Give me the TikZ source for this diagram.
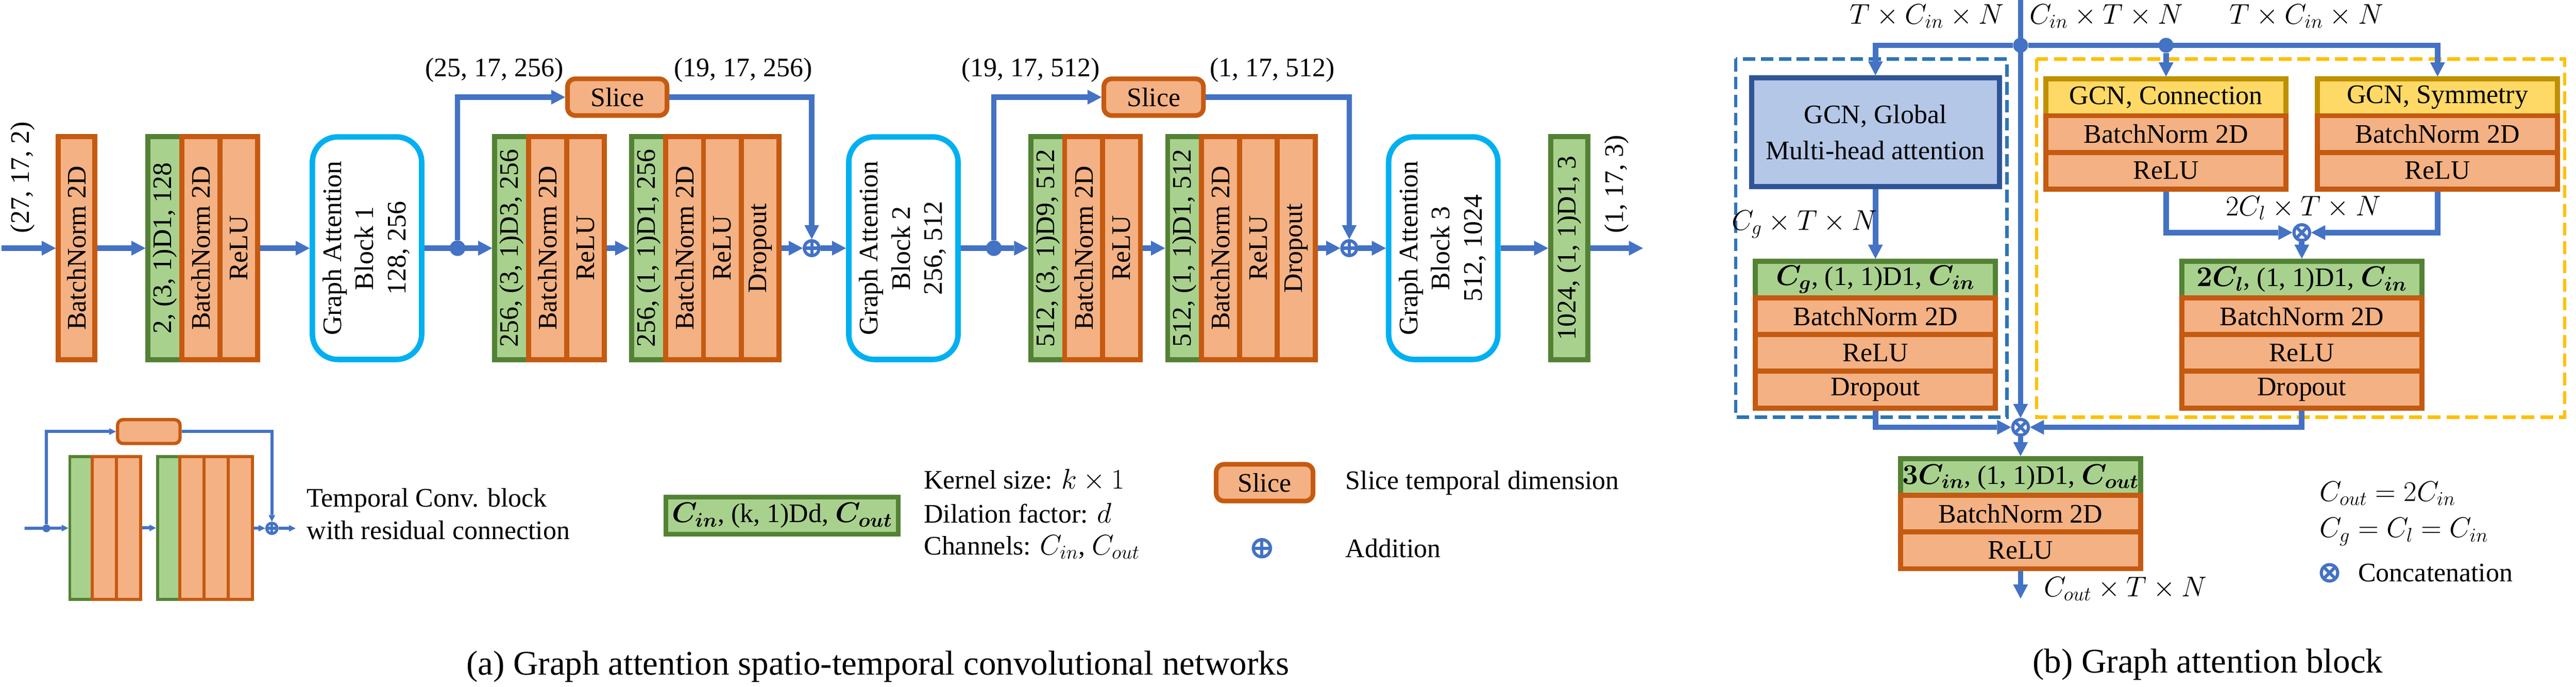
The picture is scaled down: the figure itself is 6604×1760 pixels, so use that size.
\documentclass[tikz,border=0pt]{standalone}
\usepackage{fontspec}
\setmainfont{Liberation Serif}
\usepackage{amsmath,bm}
\usetikzlibrary{arrows.meta,calc}
\definecolor{ablue}{HTML}{4472C4}
\definecolor{ofill}{HTML}{F4B183}
\definecolor{odraw}{HTML}{C55A11}
\definecolor{gfill}{HTML}{A9D18E}
\definecolor{gdraw}{HTML}{548235}
\definecolor{cyanb}{HTML}{00B0F0}
\definecolor{bfill}{HTML}{B4C7E7}
\definecolor{bdraw}{HTML}{2F5597}
\definecolor{yfill}{HTML}{FFD966}
\definecolor{ydraw}{HTML}{BF9000}
\definecolor{dblue}{HTML}{2E75B6}
\definecolor{dyellow}{HTML}{FFC000}
\begin{document}
\begin{tikzpicture}[x=0.01cm,y=-0.01cm,inner sep=0pt,
  font=\fontsize{19.5}{23.5}\selectfont,
  arr/.style={draw=ablue,line width=4pt,-{Triangle[length=0.36cm,width=0.38cm,line width=0pt]}},
  sarr/.style={draw=ablue,line width=2.2pt,-{Triangle[length=0.17cm,width=0.17cm,line width=0pt]}},
  ostrip/.style={draw=odraw,fill=ofill,line width=3.7pt,minimum width=0.97cm,minimum height=5.71cm},
  gstrip/.style={draw=gdraw,fill=gfill,line width=3.7pt,minimum width=0.87cm,minimum height=5.71cm},
  gab/.style={draw=cyanb,fill=white,line width=4pt,rounded corners=0.65cm,minimum width=2.80cm,minimum height=5.70cm},
  slicebox/.style={draw=odraw,fill=ofill,line width=3.4pt,rounded corners=0.2cm,minimum width=2.55cm,minimum height=0.94cm},
  jdot/.style={circle,fill=ablue,minimum size=#1},
  addc/.style={circle,draw=ablue,fill=white,line width=2.3pt,minimum size=#1,
    path picture={\draw[ablue] (path picture bounding box.north) -- (path picture bounding box.south)
      (path picture bounding box.west) -- (path picture bounding box.east);}},
  catc/.style={circle,draw=ablue,fill=white,line width=2.3pt,minimum size=#1,
    path picture={\draw[ablue]
      ($(path picture bounding box.north west)!0.1464!(path picture bounding box.south east)$) --
      ($(path picture bounding box.north west)!0.8536!(path picture bounding box.south east)$)
      ($(path picture bounding box.north east)!0.1464!(path picture bounding box.south west)$) --
      ($(path picture bounding box.north east)!0.8536!(path picture bounding box.south west)$);}},
  igs/.style={draw=gdraw,fill=gfill,line width=2.2pt,minimum width=0.57cm,minimum height=3.66cm},
  ios/.style={draw=odraw,fill=ofill,line width=2.2pt,minimum width=0.62cm,minimum height=3.66cm},
  rowg/.style={draw=gdraw,fill=gfill,line width=3.7pt,minimum width=6.15cm,minimum height=0.94cm},
  rowo/.style={draw=odraw,fill=ofill,line width=3.7pt,minimum width=6.15cm,minimum height=0.94cm},
  rowy/.style={draw=ydraw,fill=yfill,line width=3.7pt,minimum width=6.15cm,minimum height=0.94cm},
  capt/.style={font=\fontsize{25.2}{30}\selectfont}
]
\fill[white] (0,0) rectangle (6604,1760);
\useasboundingbox (0,0) rectangle (6604,1760);

% ---------------- (a) main row ----------------
\coordinate (in) at (4,636);
\node[ostrip,minimum width=0.94cm] (bn0) at (196.5,636) {\rotatebox{90}{BatchNorm 2D}};
\node[gstrip] (g1) at (423,636) {\rotatebox{90}{2, (3, 1)D1, 128}};
\node[ostrip] (b1) at (515,636) {\rotatebox{90}{BatchNorm 2D}};
\node[ostrip] (r1) at (612,636) {\rotatebox{90}{ReLU}};
\node[gab] (gab1) at (941,636) {\rotatebox{90}{\begin{tabular}{@{}c@{}}Graph Attention\\Block 1\\128, 256\end{tabular}}};
\node[jdot=0.4cm] (d1) at (1173,636) {};
\node[gstrip] (g2) at (1312,636) {\rotatebox{90}{256, (3, 1)D3, 256}};
\node[ostrip] (b2) at (1404,636) {\rotatebox{90}{BatchNorm 2D}};
\node[ostrip] (r2) at (1501,636) {\rotatebox{90}{ReLU}};
\node[gstrip] (g3) at (1663,636) {\rotatebox{90}{256, (1, 1)D1, 256}};
\node[ostrip] (b3) at (1755,636) {\rotatebox{90}{BatchNorm 2D}};
\node[ostrip] (r3) at (1852,636) {\rotatebox{90}{ReLU}};
\node[ostrip] (o3) at (1949,636) {\rotatebox{90}{Dropout}};
\node[addc=0.38cm] (p1) at (2081,636) {};
\node[slicebox] (s1) at (1582.5,249) {Slice};
\node[gab] (gab2) at (2316,636) {\rotatebox{90}{\begin{tabular}{@{}c@{}}Graph Attention\\Block 2\\256, 512\end{tabular}}};
\node[jdot=0.4cm] (d2) at (2548,636) {};
\node[gstrip] (g4) at (2686,636) {\rotatebox{90}{512, (3, 1)D9, 512}};
\node[ostrip] (b4) at (2778,636) {\rotatebox{90}{BatchNorm 2D}};
\node[ostrip] (r4) at (2875,636) {\rotatebox{90}{ReLU}};
\node[gstrip] (g5) at (3037,636) {\rotatebox{90}{512, (1, 1)D1, 512}};
\node[ostrip] (b5) at (3129,636) {\rotatebox{90}{BatchNorm 2D}};
\node[ostrip] (r5) at (3226,636) {\rotatebox{90}{ReLU}};
\node[ostrip] (o5) at (3323,636) {\rotatebox{90}{Dropout}};
\node[addc=0.38cm] (p2) at (3459,636) {};
\node[slicebox] (s2) at (2957.5,249) {Slice};
\node[gab] (gab3) at (3700,636) {\rotatebox{90}{\begin{tabular}{@{}c@{}}Graph Attention\\Block 3\\512, 1024\end{tabular}}};
\node[gstrip,minimum width=0.95cm] (og) at (4023,636) {\rotatebox{90}{1024, (1, 1)D1, 3}};
\coordinate (out) at (4212,636);

\node[rotate=90,anchor=west] (l1) at (58,598) {(27, 17, 2)};
\node (l2) at (1267,180) {(25, 17, 256)};
\node (l3) at (1905,180) {(19, 17, 256)};
\node (l4) at (2642,180) {(19, 17, 512)};
\node (l5) at (3262,180) {(1, 17, 512)};
\node[rotate=90,anchor=west] (l6) at (4144,598) {(1, 17, 3)};

\draw[arr] (in) -- (bn0);
\draw[arr] (bn0) -- (g1);
\draw[arr] (r1) -- (gab1);
\draw[arr] (gab1) -- (g2);
\draw[arr] (r2) -- (g3);
\draw[arr] (o3) -- (p1);
\draw[arr] (p1) -- (gab2);
\draw[arr] (d1) |- (s1);
\draw[arr] (s1) -| (p1);
\draw[arr] (gab2) -- (g4);
\draw[arr] (r4) -- (g5);
\draw[arr] (o5) -- (p2);
\draw[arr] (p2) -- (gab3);
\draw[arr] (d2) |- (s2);
\draw[arr] (s2) -| (p2);
\draw[arr] (gab3) -- (og);
\draw[arr] (og) -- (out);

% ---------------- (a) legend ----------------
\coordinate (iin) at (63,1354);
\node[jdot=0.2cm] (id) at (119,1354) {};
\node[igs] (ig1) at (207.5,1353) {};
\node[ios] (io1) at (267,1353) {};
\node[ios] (io2) at (329,1353) {};
\node[igs] (ig2) at (432.5,1353) {};
\node[ios] (io3) at (492,1353) {};
\node[ios] (io4) at (554,1353) {};
\node[ios] (io5) at (616,1353) {};
\node[slicebox,line width=2.4pt,rounded corners=0.14cm,minimum width=1.60cm,minimum height=0.61cm] (isl) at (381.5,1106) {};
\node[addc=0.27cm,line width=2pt] (ip) at (697,1354) {};
\coordinate (iout) at (758,1354);
\draw[sarr] (iin) -- (ig1);
\draw[sarr] (id) |- (isl);
\draw[sarr] (isl) -| (ip);
\draw[sarr] (io2) -- (ig2);
\draw[sarr] (io5) -- (ip);
\draw[sarr] (ip) -- (iout);
\node[anchor=west,align=left] (tcb) at (786,1317) {Temporal Conv. block\\with residual connection};

\node[gstrip,minimum width=5.96cm,minimum height=0.95cm,line width=3.4pt] (lg) at (2005,1321.5) {$\bm{C_{in}}$, (k, 1)Dd, $\bm{C_{out}}$};
\node[anchor=west] (k1) at (2368,1230) {Kernel size: $k\times 1$};
\node[anchor=west] (k2) at (2368,1315) {Dilation factor: $d$};
\node[anchor=west] (k3) at (2368,1402) {Channels: $C_{in}$, $C_{out}$};
\node[slicebox,minimum width=2.48cm] (lsl) at (3242,1237) {Slice};
\node[anchor=west] (lst) at (3449,1237) {Slice temporal dimension};
\node[addc=0.44cm] (la) at (3235,1405) {};
\node[anchor=west] (lat) at (3449,1405) {Addition};

\node[capt] (capa) at (2250,1708) {(a) Graph attention spatio-temporal convolutional networks};

% ---------------- (b) graph attention block ----------------
\draw[dblue,line width=2.4pt,dash pattern=on 0.32cm off 0.14cm] (4450,151) rectangle (5145,1069);
\draw[dyellow,line width=2.4pt,dash pattern=on 0.33cm off 0.15cm] (5221,151) rectangle (6575,1069);

\coordinate (tin) at (5180,0);
\node[jdot=0.38cm] (jd) at (5180,116) {};
\node[jdot=0.38cm] (jd2) at (5553,116) {};
\node[draw=bdraw,fill=bfill,line width=3.7pt,minimum width=6.35cm,minimum height=2.79cm,align=center,font=\fontsize{19.5}{26}\selectfont] (gg) at (4808,339) {GCN, Global\\Multi-head attention};

\node[rowg] (ls1) at (4808,716.5) {$\bm{C_g}$, (1, 1)D1, $\bm{C_{in}}$};
\node[rowo] (ls2) at (4808,810.5) {BatchNorm 2D};
\node[rowo] (ls3) at (4808,904.5) {ReLU};
\node[rowo] (ls4) at (4808,998.5) {Dropout};

\node[rowy] (c1) at (5553,249.5) {GCN, Connection};
\node[rowo] (c2) at (5553,343.5) {BatchNorm 2D};
\node[rowo] (c3) at (5553,437.5) {ReLU};

\node[rowy] (y1) at (6249,249.5) {GCN, Symmetry};
\node[rowo] (y2) at (6249,343.5) {BatchNorm 2D};
\node[rowo] (y3) at (6249,437.5) {ReLU};

\node[catc=0.40cm] (cc2) at (5901,596) {};

\node[rowg] (rs1) at (5901,716.5) {$\bm{2C_l}$, (1, 1)D1, $\bm{C_{in}}$};
\node[rowo] (rs2) at (5901,810.5) {BatchNorm 2D};
\node[rowo] (rs3) at (5901,904.5) {ReLU};
\node[rowo] (rs4) at (5901,998.5) {Dropout};

\node[catc=0.40cm] (cc) at (5180,1095) {};

\node[rowg] (bb1) at (5180,1222.5) {$\bm{3C_{in}}$, (1, 1)D1, $\bm{C_{out}}$};
\node[rowo] (bb2) at (5180,1316.5) {BatchNorm 2D};
\node[rowo] (bb3) at (5180,1410.5) {ReLU};
\coordinate (bout) at (5180,1534);

\draw[arr] (tin) -- (cc);
\draw[arr] (jd) -| (gg);
\draw[arr] (jd) -| (y1);
\draw[arr] (jd2) -- (c1);
\draw[arr] (gg) -- (ls1);
\draw[arr] (c3) |- (cc2);
\draw[arr] (y3) |- (cc2);
\draw[arr] (cc2) -- (rs1);
\draw[arr] (ls4) |- (cc);
\draw[arr] (rs4) |- (cc);
\draw[arr] (cc) -- (bb1);
\draw[arr] (bb3) -- (bout);

\node (t1) at (4940,42) {$T\times C_{in}\times N$};
\node (t2) at (5400,42) {$C_{in}\times T\times N$};
\node (t3) at (5913,42) {$T\times C_{in}\times N$};
\node (t4) at (4626,575) {$C_g\times T\times N$};
\node (t5) at (5905,533) {$2C_l\times T\times N$};
\node[anchor=west] (t6) at (5239,1509) {$C_{out}\times T\times N$};

\node[anchor=west] (e1) at (5946,1265) {$C_{out}=2C_{in}$};
\node[anchor=west] (e2) at (5946,1363) {$C_g=C_l=C_{in}$};
\node[catc=0.42cm] (e3) at (5972,1468) {};
\node[anchor=west] (e4) at (6045,1468) {Concatenation};

\node[capt] (capb) at (5660,1703) {(b) Graph attention block};
\end{tikzpicture}
\end{document}
